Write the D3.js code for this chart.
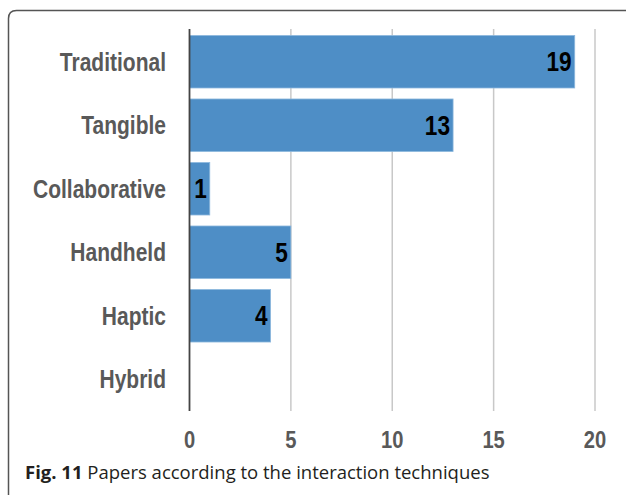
<!DOCTYPE html>
<html>
<head>
<meta charset="utf-8">
<script src="https://cdn.jsdelivr.net/npm/d3@7/dist/d3.min.js"></script>
<style>
  html, body { margin: 0; padding: 0; background: #fff; }
  svg { display: block; }
  .lab { font-family: "Liberation Sans", Arial, sans-serif; font-weight: bold; }
</style>
</head>
<body>
<svg id="chart" width="626" height="495"></svg>
<script>
const categories = ["Traditional", "Tangible", "Collaborative", "Handheld", "Haptic", "Hybrid"];
const values = [19, 13, 1, 5, 4, 0];
const tickValues = [0, 5, 10, 15, 20];
const captionBold = "Fig. 11";
const captionText = " Papers according to the interaction techniques";

const NARROW = 0.84;
const svg = d3.select("#chart");

// frame
svg.append("path")
  .attr("d", "M8.5,495 L8.5,18.5 Q8.5,10.5 16.5,10.5 L626,10.5")
  .attr("fill", "none").attr("stroke", "#555").attr("stroke-width", 1.5);

const x = d3.scaleLinear().domain([0, 20]).range([189.5, 595]);
const y = d3.scaleBand().domain(categories).range([29, 412])
  .paddingInner(0.173).paddingOuter(0.102);

// gridlines
svg.append("g").selectAll("line").data(tickValues.filter(d => d > 0)).join("line")
  .attr("x1", d => x(d)).attr("x2", d => x(d))
  .attr("y1", 29).attr("y2", 411)
  .attr("stroke", "#c8c8c8").attr("stroke-width", 1.5);

// bars
const rows = categories.map((c, i) => ({ c, v: values[i] }));
svg.append("g").selectAll("rect").data(rows).join("rect")
  .attr("x", x(0))
  .attr("y", d => y(d.c))
  .attr("width", d => x(d.v) - x(0))
  .attr("height", y.bandwidth())
  .attr("fill", "#4e8ec6")
  .attr("stroke", "#8db8de").attr("stroke-width", d => d.v > 0 ? 0.8 : 0);

// axis line
svg.append("line")
  .attr("x1", x(0)).attr("x2", x(0)).attr("y1", 29).attr("y2", 411)
  .attr("stroke", "#444").attr("stroke-width", 1.8);

function narrowText(g, data, px, py, anchor, size, fill, txt) {
  g.selectAll("text").data(data).join("text")
    .attr("class", "lab")
    .attr("transform", d => `translate(${px(d)},${py(d)}) scale(${NARROW},1)`)
    .attr("text-anchor", anchor)
    .attr("dy", "0.36em")
    .attr("font-size", size)
    .attr("fill", fill)
    .text(txt);
}

// value labels
narrowText(svg.append("g"), rows.filter(d => d.v > 0),
  d => x(d.v) - 3, d => y(d.c) + y.bandwidth() / 2, "end", 27, "#000", d => d.v);

// category labels
narrowText(svg.append("g"), categories,
  d => 166, d => y(d) + y.bandwidth() / 2, "end", 25, "#595959", d => d);

// x tick labels
narrowText(svg.append("g"), tickValues,
  d => x(d), d => 439, "middle", 24, "#595959", d => d3.format("d")(d));

// caption
const cap = svg.append("text").attr("x", 25).attr("y", 479)
  .attr("font-family", "'Open Sans', sans-serif").attr("font-size", 18.5).attr("fill", "#231f20");
cap.append("tspan").attr("font-weight", "bold").text(captionBold);
cap.append("tspan").text(captionText);
</script>
</body>
</html>
